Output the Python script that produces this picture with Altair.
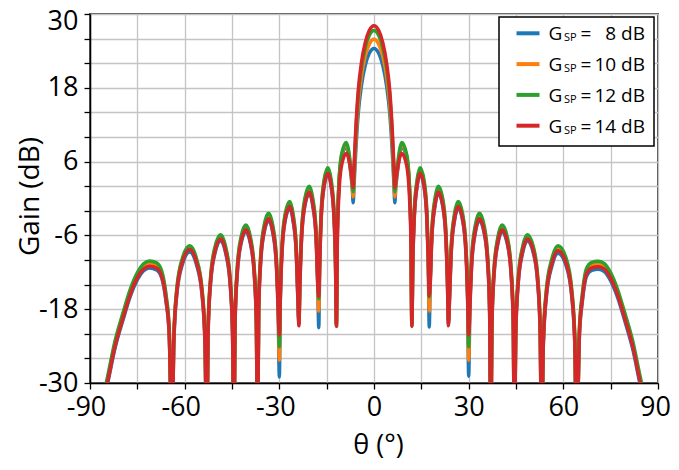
import altair as alt
import pandas as pd

# ---------------- data ----------------
theta = [
    -87.0, -84.5, -82.1, -79.4, -77.3, -74.9, -73.1, -71.2, -68.9, -67.3, -65.9, -64.9, -64.0,
    -63.45, -62.5, -60.7, -58.4, -56.3, -54.5, -53.55, -53.0,
    -52.57, -51.8, -50.4, -48.6, -47.0, -45.6, -44.83, -44.4,
    -44.03, -43.35, -42.15, -40.6, -39.15, -37.95, -37.28, -36.9,
    -36.55, -35.93, -34.83, -33.4, -32.07, -30.97, -30.35, -30.0,
    -29.69, -29.13, -28.14, -26.7, -25.66, -24.67, -24.11, -23.8,
    -23.49, -22.92, -21.91, -20.5, -19.39, -18.38, -17.82, -17.5,
    -17.22, -16.72, -15.82, -14.6, -13.58, -12.68, -12.18, -11.9,
    -11.64, -11.16, -10.31, -8.8, -8.19, -7.34, -6.87, -6.6,
    -6.3, -5.8, -5.0, -4.0, -2.8, -1.5, 0.0, 1.5, 2.8, 4.0, 5.0, 5.8, 6.3,
    6.6, 6.87, 7.36, 8.22, 8.8, 10.38, 11.24, 11.73,
    12.0, 12.28, 12.77, 13.65, 14.6, 15.85, 16.73, 17.23,
    17.5, 17.8, 18.35, 19.33, 20.4, 21.77, 22.75, 23.3,
    23.6, 23.92, 24.5, 25.52, 26.7, 28.08, 29.1, 29.68,
    30.0, 30.35, 30.98, 32.1, 33.4, 34.9, 36.02, 36.65,
    37.0, 37.38, 38.05, 39.25, 40.6, 42.25, 43.45, 44.13,
    44.5, 44.93, 45.7, 47.08, 48.6, 50.52, 51.9, 52.67,
    53.1, 53.66, 54.65, 56.43, 58.3, 60.87, 62.65, 63.65,
    64.2, 65.1, 66.0, 67.4, 69.0, 71.1, 73.0, 74.8, 77.2, 79.3, 82.0, 84.4, 86.9,
]

gain_8dB = [
    -35.8, -30.3, -24.4, -19.5, -16.0, -13.1, -11.8, -11.3, -11.6, -12.9, -16.8, -22.2, -40.0,
    -23.7, -15.7, -10.7, -8.7, -10.7, -15.7, -23.7, -40.0,
    -21.9, -13.9, -8.9, -6.9, -8.9, -13.9, -21.9, -40.0,
    -20.4, -12.4, -7.4, -5.4, -7.4, -12.4, -20.4, -40.0,
    -18.6, -10.6, -5.6, -3.6, -5.6, -10.6, -18.6, -29.0,
    -16.6, -8.6, -3.6, -1.6, -3.6, -8.6, -16.6, -20.4,
    -14.2, -6.2, -1.2, 0.8, -1.2, -6.2, -14.2, -21.0,
    -11.1, -3.1, 1.9, 3.9, 1.9, -3.1, -11.1, -20.5,
    -6.5, 1.5, 6.5, 8.5, 7.3, 4.0, 1.5, -0.7,
    2.5, 7.5, 13.8, 18.3, 21.6, 23.6, 24.4, 23.6, 21.6, 18.3, 13.8, 7.5, 2.5,
    -0.7, 1.5, 4.0, 7.3, 8.5, 6.5, 1.5, -6.5,
    -20.5, -11.1, -3.1, 1.9, 3.9, 1.9, -3.1, -11.1,
    -20.9, -14.2, -6.2, -1.2, 0.8, -1.2, -6.2, -14.2,
    -20.4, -16.6, -8.6, -3.6, -1.6, -3.6, -8.6, -16.6,
    -28.9, -18.6, -10.6, -5.6, -3.6, -5.6, -10.6, -18.6,
    -40.0, -20.4, -12.4, -7.4, -5.4, -7.4, -12.4, -20.4,
    -40.0, -21.9, -13.9, -8.9, -6.9, -8.9, -13.9, -21.9,
    -40.0, -23.9, -15.9, -10.9, -8.9, -10.9, -15.9, -23.9,
    -40.0, -22.3, -16.9, -12.6, -11.7, -11.5, -11.9, -13.2, -16.1, -19.6, -24.5, -30.4, -35.9,
]

gain_10dB = [
    -35.0, -29.55, -23.65, -18.75, -15.25, -12.35, -11.05, -10.55, -10.85, -12.15, -16.05, -21.45, -40.0,
    -23.0, -15.0, -10.0, -8.0, -10.0, -15.0, -23.0, -40.0,
    -21.2, -13.2, -8.2, -6.2, -8.2, -13.2, -21.2, -40.0,
    -19.7, -11.7, -6.7, -4.7, -6.7, -11.7, -19.7, -40.0,
    -17.8, -9.8, -4.8, -2.8, -4.8, -9.8, -17.8, -26.3,
    -15.8, -7.8, -2.8, -0.8, -2.8, -7.8, -15.8, -20.0,
    -13.4, -5.4, -0.4, 1.6, -0.4, -5.4, -13.4, -18.3,
    -10.4, -2.4, 2.6, 4.6, 2.6, -2.4, -10.4, -20.6,
    -6.2, 1.8, 6.8, 8.8, 7.8, 4.5, 2.0, 0.3,
    3.5, 9.0, 15.3, 19.8, 23.1, 25.1, 25.9, 25.1, 23.1, 19.8, 15.3, 9.0, 3.5,
    0.3, 2.0, 4.5, 7.8, 8.8, 6.8, 1.8, -6.2,
    -20.6, -10.4, -2.4, 2.6, 4.6, 2.6, -2.4, -10.4,
    -18.3, -13.4, -5.4, -0.4, 1.6, -0.4, -5.4, -13.4,
    -20.0, -15.8, -7.8, -2.8, -0.8, -2.8, -7.8, -15.8,
    -26.3, -17.8, -9.8, -4.8, -2.8, -4.8, -9.8, -17.8,
    -40.0, -19.7, -11.7, -6.7, -4.7, -6.7, -11.7, -19.7,
    -40.0, -21.2, -13.2, -8.2, -6.2, -8.2, -13.2, -21.2,
    -40.0, -23.1, -15.1, -10.1, -8.1, -10.1, -15.1, -23.1,
    -40.0, -21.5, -16.1, -11.8, -10.9, -10.7, -11.1, -12.4, -15.3, -18.8, -23.7, -29.6, -35.1,
]

gain_12dB = [
    -34.65, -29.15, -23.25, -18.35, -14.85, -11.95, -10.65, -10.15, -10.45, -11.75, -15.65, -21.05, -40.0,
    -22.7, -14.7, -9.7, -7.7, -9.7, -14.7, -22.7, -40.0,
    -20.9, -12.9, -7.9, -5.9, -7.9, -12.9, -20.9, -40.0,
    -19.3, -11.3, -6.3, -4.3, -6.3, -11.3, -19.3, -40.0,
    -17.4, -9.4, -4.4, -2.4, -4.4, -9.4, -17.4, -24.1,
    -15.5, -7.5, -2.5, -0.5, -2.5, -7.5, -15.5, -19.8,
    -13.0, -5.0, 0.0, 2.0, 0.0, -5.0, -13.0, -16.3,
    -10.0, -2.0, 3.0, 5.0, 3.0, -2.0, -10.0, -20.7,
    -5.9, 2.1, 7.1, 9.1, 8.2, 5.0, 2.5, 1.1,
    4.5, 10.2, 16.7, 21.2, 24.5, 26.5, 27.3, 26.5, 24.5, 21.2, 16.7, 10.2, 4.5,
    1.1, 2.5, 5.0, 8.2, 9.1, 7.1, 2.1, -5.9,
    -20.7, -10.0, -2.0, 3.0, 5.0, 3.0, -2.0, -10.0,
    -16.0, -13.0, -5.0, 0.0, 2.0, 0.0, -5.0, -13.0,
    -19.8, -15.5, -7.5, -2.5, -0.5, -2.5, -7.5, -15.5,
    -24.1, -17.4, -9.4, -4.4, -2.4, -4.4, -9.4, -17.4,
    -40.0, -19.3, -11.3, -6.3, -4.3, -6.3, -11.3, -19.3,
    -40.0, -20.9, -12.9, -7.9, -5.9, -7.9, -12.9, -20.9,
    -40.0, -22.7, -14.7, -9.7, -7.7, -9.7, -14.7, -22.7,
    -40.0, -21.0, -15.6, -11.3, -10.4, -10.2, -10.6, -11.9, -14.8, -18.3, -23.2, -29.1, -34.6,
]

gain_14dB = [
    -35.5, -30.0, -24.1, -19.2, -15.7, -12.8, -11.5, -11.0, -11.3, -12.6, -16.5, -21.9, -40.0,
    -23.3, -15.3, -10.3, -8.3, -10.3, -15.3, -23.3, -40.0,
    -21.6, -13.6, -8.6, -6.6, -8.6, -13.6, -21.6, -40.0,
    -20.1, -12.1, -7.1, -5.1, -7.1, -12.1, -20.1, -40.0,
    -18.3, -10.3, -5.3, -3.3, -5.3, -10.3, -18.3, -22.2,
    -16.3, -8.3, -3.3, -1.3, -3.3, -8.3, -16.3, -20.7,
    -14.0, -6.0, -1.0, 1.0, -1.0, -6.0, -14.0, -15.9,
    -10.9, -2.9, 2.1, 4.1, 2.1, -2.9, -10.9, -20.8,
    -7.7, 0.3, 5.3, 7.3, 6.8, 4.5, 2.8, 1.8,
    5.5, 11.0, 17.5, 22.0, 25.3, 27.3, 28.1, 27.3, 25.3, 22.0, 17.5, 11.0, 5.5,
    1.8, 2.8, 4.5, 6.8, 7.3, 5.3, 0.3, -7.7,
    -20.8, -10.9, -2.9, 2.1, 4.1, 2.1, -2.9, -10.9,
    -15.8, -14.0, -6.0, -1.0, 1.0, -1.0, -6.0, -14.0,
    -20.7, -16.3, -8.3, -3.3, -1.3, -3.3, -8.3, -16.3,
    -22.2, -18.3, -10.3, -5.3, -3.3, -5.3, -10.3, -18.3,
    -40.0, -20.1, -12.1, -7.1, -5.1, -7.1, -12.1, -20.1,
    -40.0, -21.6, -13.6, -8.6, -6.6, -8.6, -13.6, -21.6,
    -40.0, -23.5, -15.5, -10.5, -8.5, -10.5, -15.5, -23.5,
    -40.0, -21.9, -16.5, -12.2, -11.3, -11.1, -11.5, -12.8, -15.7, -19.2, -24.1, -30.0, -35.5,
]

series_values = ["8", "10", "12", "14"]
series_colors = ["#1f77b4", "#ff7f0e", "#2ca02c", "#d62728"]
series_gains = [gain_8dB, gain_10dB, gain_12dB, gain_14dB]

x_ticks = list(range(-90, 91, 15))
y_ticks = list(range(-30, 31, 4))

FONT = "Open Sans"

# ---------------- chart ----------------
x_enc = alt.X(
    "theta:Q",
    scale=alt.Scale(domain=[-90, 90], nice=False, zero=False),
    axis=alt.Axis(
        values=x_ticks,
        labelExpr="datum.value % 30 == 0 ? toString(datum.value) : ''",
        labelOffset={
            "condition": [
                {"test": "datum.value < 0", "value": -4},
                {"test": "datum.value >= 90", "value": -3},
            ],
            "value": 0,
        },
        title="θ (°)",
        titleX=288,
        titleY=70,
        titleBaseline="alphabetic",
        titleAlign="center",
        titleFontSize=27,
        labelPadding=5,
    ),
)
y_enc = alt.Y(
    "gain:Q",
    scale=alt.Scale(domain=[-30, 30], nice=False, zero=False),
    axis=alt.Axis(
        values=y_ticks,
        labelExpr="(datum.value + 30) % 12 == 0 ? toString(datum.value) : ''",
        labelOffset={"condition": {"test": "datum.value >= 30", "value": 7}, "value": 0},
        title="Gain (dB)",
        titleAngle=270,
        titleX=-60,
        titleY=182,
        titleBaseline="middle",
        titleAlign="center",
        labelPadding=6,
    ),
)

layers = []
for val, col, g in zip(series_values, series_colors, series_gains):
    df = pd.DataFrame({"theta": theta, "gain": g})
    layers.append(
        alt.Chart(df)
        .mark_line(color=col, strokeWidth=3.5, clip=True, interpolate="monotone")
        .encode(x=x_enc, y=y_enc)
    )

one = alt.Data(values=[{}])
layers.append(
    alt.Chart(one)
    .mark_rect(fill="white", stroke="black", strokeWidth=1.5)
    .encode(x=alt.value(409), x2=alt.value(564), y=alt.value(3), y2=alt.value(132))
)
for i, (val, col) in enumerate(zip(series_values, series_colors)):
    ly = 19.3 + 30.8 * i
    by = ly + 6.8
    layers.append(
        alt.Chart(one)
        .mark_rule(color=col, strokeWidth=4)
        .encode(x=alt.value(426.5), x2=alt.value(449.5), y=alt.value(ly))
    )
    txt = dict(baseline="alphabetic", font=FONT, color="black")
    layers.append(
        alt.Chart(one).mark_text(align="left", fontSize=19, **txt)
        .encode(x=alt.value(458.5), y=alt.value(by), text=alt.value("G"))
    )
    layers.append(
        alt.Chart(one).mark_text(align="left", fontSize=11, **txt)
        .encode(x=alt.value(474), y=alt.value(by + 1), text=alt.value("SP"))
    )
    layers.append(
        alt.Chart(one).mark_text(align="left", fontSize=19, **txt)
        .encode(x=alt.value(490.5), y=alt.value(by), text=alt.value("="))
    )
    layers.append(
        alt.Chart(one).mark_text(align="right", fontSize=19, **txt)
        .encode(x=alt.value(555), y=alt.value(by), text=alt.value(f"{val} dB"))
    )

chart = (
    alt.layer(*layers)
    .properties(
        width=568,
        height=369,
        padding={"left": 82, "top": 6, "right": 13, "bottom": 78},
        autosize=alt.AutoSizeParams(type="none"),
        background="white",
    )
    .configure_view(stroke="#505050", strokeWidth=2)
    .configure_axis(
        domainColor="black",
        domainWidth=1.5,
        tickColor="black",
        tickWidth=1.3,
        tickSize=6,
        gridColor="#c4c4c4",
        gridWidth=1.3,
        labelFont=FONT,
        labelFontSize=27,
        labelColor="black",
        labelFlush=False,
        labelOverlap=False,
        titleFont=FONT,
        titleFontSize=28,
        titleFontWeight="normal",
        titleColor="black",
    )
)

chart.save("out.html", embed_options={"renderer": "svg", "actions": False})
